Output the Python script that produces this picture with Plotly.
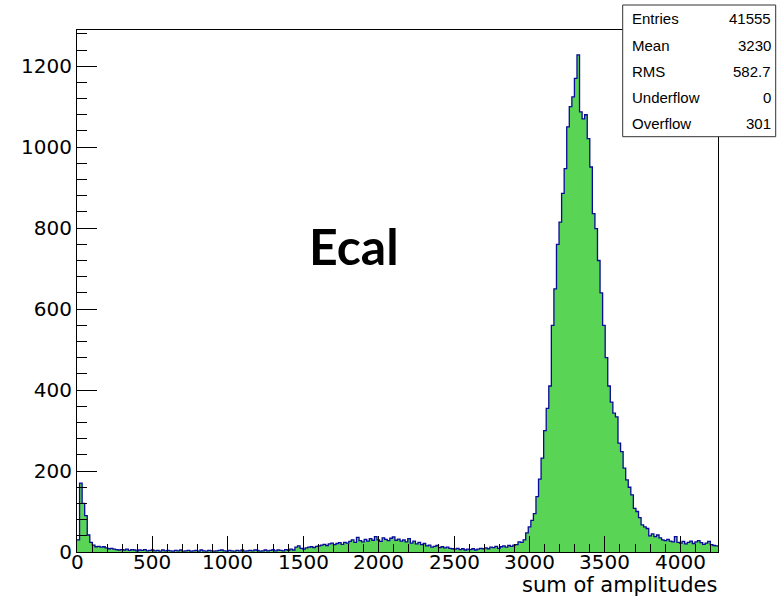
import plotly.graph_objects as go

# Histogram binning: 250 bins of width 17 over [0, 4250)
BIN_WIDTH = 17
X_MAX = 4250

# Bin contents, low edge upward
counts = [
    # 0 - 288: pedestal spike and its tail
    30, 170, 120, 90, 42, 24, 17, 13, 14, 12, 13, 10, 8, 9, 7, 6, 5,
    # 289 - 1512: flat low region
    6, 5, 7, 4, 6, 5, 3, 5, 4, 6, 3, 4, 5, 3,
    4, 2, 5, 3, 4, 3, 2, 4, 3, 5, 2, 3, 4, 2,
    3, 4, 2, 5, 3, 2, 4, 3, 2, 3, 4, 5, 3, 2,
    4, 3, 2, 4, 3, 5, 2, 3, 4, 3, 5, 4, 2, 3,
    5, 3, 4, 6, 3, 5, 4, 3, 6, 4, 7, 5,
    12, 15, 9, 7,
    # 1513 - 2907: broad shoulder
    10, 12, 13, 11, 14, 15,
    17, 19, 16, 20, 22, 18, 21, 23, 19, 24, 22,
    26, 30, 24, 36, 28, 25, 31,
    27, 33, 29, 38, 30, 26, 35, 31, 28, 34, 37, 29, 32, 27,
    30, 25, 33, 22, 27, 20, 24, 18, 21,
    15, 17, 12, 14, 16, 11, 13, 10, 12, 9,
    8, 7, 9, 6, 8, 5, 7, 6, 8, 5, 7, 9, 8,
    10, 8, 12, 11, 14, 9, 13, 15, 12, 16, 14, 17,
    # 2907 - 3876: main peak
    18, 25, 24, 30, 47, 62, 78, 95, 137, 180, 232, 300, 355, 410,
    560, 650, 760, 815, 886, 947, 1050, 1100, 1124, 1170, 1228,
    1087, 1070, 1080, 1021, 951, 836, 799, 720, 640, 560, 480,
    410, 370, 343, 334, 269, 248, 207, 178, 160, 141, 108, 100,
    85, 67, 62, 58, 40, 45, 38, 42, 35,
    # 3876 - 4250: high tail
    30, 28, 31, 27, 25, 38, 24,
    22, 26, 20, 24, 27, 21, 25, 28, 23, 19, 22, 26, 18, 16, 15,
]
assert len(counts) * BIN_WIDTH == X_MAX

x_ticks = [0, 500, 1000, 1500, 2000, 2500, 3000, 3500, 4000]
y_ticks = [0, 200, 400, 600, 800, 1000, 1200]

stats_labels = ["Entries", "Mean", "RMS", "Underflow", "Overflow"]
stats_values = ["41555", "3230", "582.7", "0", "301"]

title_text = "Ecal"
x_title = "sum of amplitudes"

# Step outline built from the bin edges
edges = [i * BIN_WIDTH for i in range(len(counts) + 1)]
step_y = counts + [counts[-1]]

y_max = max(counts) * 1.05

W, H = 783, 598
ML, MR, MT, MB = 77, 65, 30, 46
PW, PH = W - ML - MR, H - MT - MB


def px_x(px):
    return (px - ML) / PW


def px_y(py):
    return (H - MB - py) / PH


fig = go.Figure()
fig.add_trace(go.Scatter(
    x=edges, y=step_y,
    mode="lines", line_shape="hv",
    line=dict(color="#0a0a9a", width=1.3),
    fill="tozeroy", fillcolor="#59d454",
    hoverinfo="skip", showlegend=False,
))

axis_font = dict(family="DejaVu Sans", size=20, color="black")

fig.update_xaxes(
    range=[0, X_MAX], tickvals=x_ticks, showticklabels=False,
    ticks="inside", ticklen=16, tickwidth=1, tickcolor="black",
    minor=dict(ticks="inside", ticklen=8, dtick=100, tickcolor="black", tickwidth=1, showgrid=False),
    showline=True, linecolor="black", linewidth=1, mirror=True,
    showgrid=False, zeroline=False,
)
fig.update_yaxes(
    range=[0, y_max], tickvals=y_ticks, ticktext=[str(v) for v in y_ticks],
    ticks="inside", ticklen=20, tickwidth=1, tickcolor="black",
    minor=dict(ticks="inside", ticklen=10, dtick=40, tickcolor="black", tickwidth=1, showgrid=False),
    showline=True, linecolor="black", linewidth=1, mirror=True,
    showgrid=False, zeroline=False, tickfont=axis_font,
)

annotations = [
    dict(x=1838, y=756, xref="x", yref="y", text=title_text, showarrow=False,
         xanchor="center", yanchor="middle",
         font=dict(family="Lato", size=50, color="black", weight="bold")),
    dict(x=1, y=px_y(598), xref="paper", yref="paper", text=x_title, showarrow=False,
         xanchor="right", yanchor="bottom", borderpad=0,
         font=dict(family="DejaVu Sans", size=21, color="black")),
]

# x tick labels, placed at the tick values just under the axis
for v in x_ticks:
    annotations.append(dict(x=v, y=px_y(561.5), xref="x", yref="paper", text=str(v),
                            showarrow=False, xanchor="center", yanchor="middle",
                            borderpad=0, font=axis_font))

# Statistics box
row_y = [18.3, 45, 71.7, 97.7, 123.3]
box_font = dict(family="Liberation Sans", size=15, color="black")
for lab, val, ry in zip(stats_labels, stats_values, row_y):
    annotations.append(dict(x=px_x(630), y=px_y(ry), xref="paper", yref="paper", text=lab,
                            showarrow=False, xanchor="left", yanchor="middle", font=box_font))
    annotations.append(dict(x=px_x(773), y=px_y(ry), xref="paper", yref="paper", text=val,
                            showarrow=False, xanchor="right", yanchor="middle", font=box_font))

shapes = [
    dict(type="rect", xref="paper", yref="paper",
         x0=px_x(622.7), x1=px_x(775.7), y0=px_y(136.7), y1=px_y(5),
         line=dict(color="#333333", width=1), fillcolor="white", layer="above"),
]

fig.update_layout(
    width=W, height=H, autosize=False,
    margin=dict(l=ML, r=MR, t=MT, b=MB, pad=0),
    paper_bgcolor="white", plot_bgcolor="white",
    annotations=annotations, shapes=shapes,
    showlegend=False,
)

fig.write_html("out.html")
